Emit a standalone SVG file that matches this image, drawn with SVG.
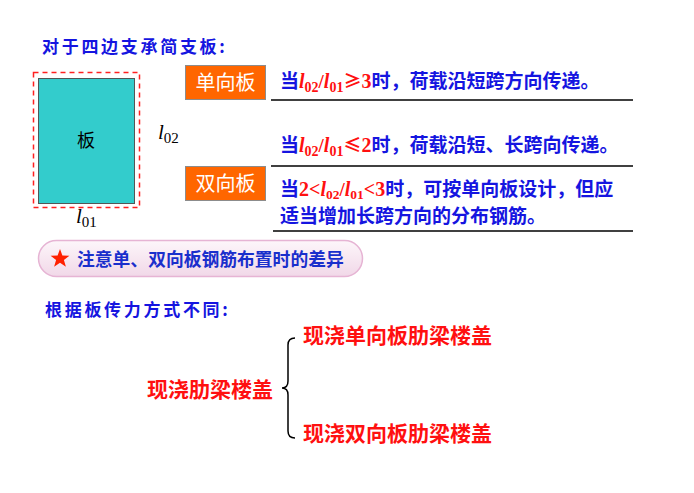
<svg xmlns="http://www.w3.org/2000/svg" width="694" height="493" viewBox="0 0 694 493">
<style>
.blue{fill:#1515E0;font-family:"Noto Sans CJK SC","Noto Sans",sans-serif;font-weight:bold;}
.red{fill:#FF1010;}
.cjk{font-family:"Noto Sans CJK SC","Noto Sans",sans-serif;font-weight:bold;}
.ser{font-family:"Liberation Serif",serif;font-weight:bold;}
.lab{fill:#FFFFFF;font-family:"Noto Sans CJK SC","Noto Sans",sans-serif;font-size:20px;}
.tag{fill:#FF6600;stroke:#8C8C8C;stroke-width:1;}
.rule{stroke:#000;stroke-width:1.5;fill:none;}
.var{font-family:"Liberation Serif",serif;font-style:italic;font-size:21px;fill:#000;}
.sub{font-family:"Liberation Serif",serif;font-size:15px;fill:#000;}
.head{fill:#1515E0;font-family:"Noto Sans CJK SC","Noto Sans",sans-serif;font-weight:bold;font-size:17px;letter-spacing:2.7px;}
</style>
<defs>
<linearGradient id="pill" x1="0" y1="0" x2="0" y2="1">
<stop offset="0" stop-color="#FDF6FA"/>
<stop offset="1" stop-color="#F1D8E8"/>
</linearGradient>
</defs>
<rect width="694" height="493" fill="#FFFFFF"/>

<g id="title">
<text x="42" y="53" class="head">对于四边支承简支板:</text>
</g>

<g id="slab">
<rect x="33.5" y="72.5" width="106" height="135" fill="none" stroke="#FF2020" stroke-width="1.5" stroke-dasharray="5,4"/>
<rect x="38.5" y="78.5" width="96" height="125" fill="#33CCCC" stroke="#555" stroke-width="1"/>
<text x="86" y="147" font-family="'Noto Sans CJK SC',sans-serif" font-size="18" fill="#000" text-anchor="middle">板</text>
</g>

<g id="l02">
<text x="158" y="139"><tspan class="var">l</tspan><tspan class="sub" dy="4">02</tspan></text>
</g>
<g id="l01">
<text x="76" y="223"><tspan class="var">l</tspan><tspan class="sub" dy="4">01</tspan></text>
</g>

<g id="oneway">
<rect x="185.5" y="65.5" width="80" height="34" class="tag"/>
<text x="225.5" y="89.5" class="lab" text-anchor="middle">单向板</text>
</g>
<g id="twoway">
<rect x="185.5" y="166.5" width="80" height="34" class="tag"/>
<text x="225.5" y="190.5" class="lab" text-anchor="middle">双向板</text>
</g>

<g id="rule1">
<text x="280" y="88" font-size="19"><tspan class="blue">当</tspan><tspan class="ser red" font-style="italic" font-size="20">l</tspan><tspan class="ser red" font-size="14" dy="4">02</tspan><tspan class="ser red" dy="-4" font-size="19">/</tspan><tspan class="ser red" font-style="italic" font-size="20">l</tspan><tspan class="ser red" font-size="14" dy="4">01</tspan><tspan class="cjk red" dy="-4" font-size="18">≥</tspan><tspan class="ser red" font-size="20">3</tspan><tspan class="blue">时，荷载沿短跨方向传递。</tspan></text>
<line x1="271" y1="100" x2="633" y2="100" class="rule"/>
</g>

<g id="rule2">
<text x="280" y="152" font-size="19"><tspan class="blue">当</tspan><tspan class="ser red" font-style="italic" font-size="20">l</tspan><tspan class="ser red" font-size="14" dy="4">02</tspan><tspan class="ser red" dy="-4" font-size="19">/</tspan><tspan class="ser red" font-style="italic" font-size="20">l</tspan><tspan class="ser red" font-size="14" dy="4">01</tspan><tspan class="cjk red" dy="-4" font-size="18">≤</tspan><tspan class="ser red" font-size="20">2</tspan><tspan class="blue">时，荷载沿短、长跨向传递。</tspan></text>
<line x1="271" y1="166" x2="633" y2="166" class="rule"/>
</g>

<g id="rule3">
<text x="280" y="196" font-size="19"><tspan class="blue">当</tspan><tspan class="ser red" font-size="20">2&lt;</tspan><tspan class="ser red" font-style="italic" font-size="20">l</tspan><tspan class="ser red" font-size="13.5" dy="3">02</tspan><tspan class="ser red" dy="-3" font-size="19">/</tspan><tspan class="ser red" font-style="italic" font-size="20">l</tspan><tspan class="ser red" font-size="13.5" dy="3">01</tspan><tspan class="ser red" dy="-3" font-size="20">&lt;3</tspan><tspan class="blue">时，可按单向板设计，但应</tspan></text>
<text x="280" y="223" font-size="19" class="blue">适当增加长跨方向的分布钢筋。</text>
<line x1="273" y1="231" x2="633" y2="231" class="rule"/>
</g>

<g id="note">
<rect x="38.5" y="240.5" width="324" height="36" rx="18" ry="18" fill="url(#pill)" stroke="#E6B4D4" stroke-width="1.5"/>
<polygon points="60,249 62.4,255.6 69.4,255.8 63.9,260.1 65.9,266.8 60,262.8 54.1,266.8 56.1,260.1 50.6,255.8 57.6,255.6" fill="#FF2000"/>
<text x="77" y="266" font-size="17.8" fill="#1A2FCC" font-family="'Noto Sans CJK SC',sans-serif" font-weight="bold">注意单、双向板钢筋布置时的差异</text>
</g>

<g id="subtitle">
<text x="45" y="316" class="head">根据板传力方式不同:</text>
</g>

<g id="root">
<text x="147" y="397" class="cjk red" font-size="21">现浇肋梁楼盖</text>
</g>
<g id="child1">
<text x="303" y="343" class="cjk red" font-size="21">现浇单向板肋梁楼盖</text>
</g>
<g id="child2">
<text x="303" y="441" class="cjk red" font-size="21">现浇双向板肋梁楼盖</text>
</g>

<g id="connectors">
<path d="M295,338 Q288,338 288,345 L288,381 Q288,388 282,388 Q288,388 288,395 L288,431 Q288,438 295,438" fill="none" stroke="#000" stroke-width="1.5"/>
</g>
</svg>
